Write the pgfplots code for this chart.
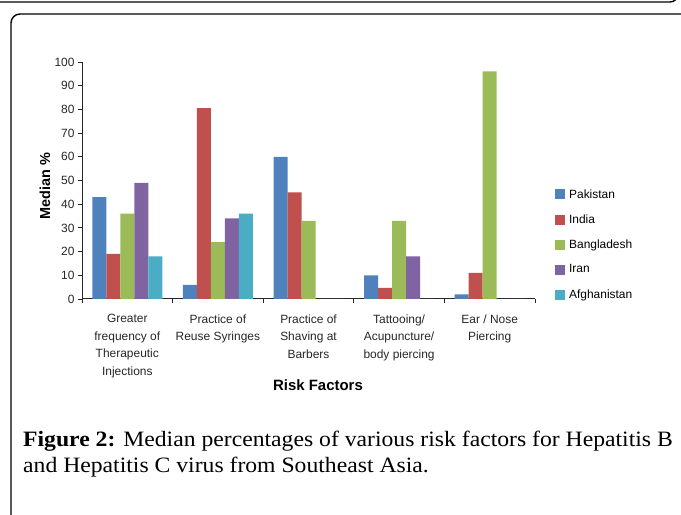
\documentclass[border=0pt]{standalone}
\usepackage{fontspec}
\setmainfont{Liberation Sans}
\newfontfamily\capfont[FakeStretch=1.08]{Liberation Serif}
\usepackage{pgfplots}
\pgfplotsset{compat=1.18}

\definecolor{pak}{HTML}{4F81BD}
\definecolor{ind}{HTML}{C0504D}
\definecolor{ban}{HTML}{9BBB59}
\definecolor{irn}{HTML}{8064A2}
\definecolor{afg}{HTML}{4BACC6}

\begin{document}
\begin{tikzpicture}
\useasboundingbox (0,0) rectangle (681bp,515bp);
% frames of the page
\draw[line width=1.4bp, rounded corners=8bp] (-10bp,513bp) -- (678bp,513bp) -- (678bp,530bp);
\draw[line width=1.4bp, rounded corners=9bp] (11bp,-20bp) -- (11bp,501bp) -- (700bp,501bp);

\begin{axis}[
    at={(82bp,216bp)}, anchor=south west,
    scale only axis,
    width=453bp, height=237bp,
    ybar=0pt, bar width=14bp,
    xmin=-0.5, xmax=4.5,
    ymin=0, ymax=100,
    axis lines=left,
    axis line style={-, line width=1bp, black!85},
    xtick={0,1,2,3,4},
    major x tick style={draw=none},
    minor xtick={-0.5,0.5,1.5,2.5,3.5,4.5},
    minor tick length=4bp,
    xticklabels={Greater\\frequency of\\Therapeutic\\Injections,
                 Practice of\\Reuse Syringes,
                 Practice of\\Shaving at\\Barbers,
                 Tattooing/\\Acupuncture/\\body piercing,
                 Ear / Nose\\Piercing},
    xticklabel style={align=center, font=\fontsize{12}{17.5}\selectfont, color=black!85, yshift=-8bp},
    ytick={0,10,...,100},
    major tick length=4bp,
    tick align=outside,
    tick style={black!85, line width=0.8bp},
    yticklabel style={font=\fontsize{12}{14}\selectfont, color=black!85},
    /pgf/number format/assume math mode=true,
    xlabel={Risk Factors},
    xlabel style={at={(axis description cs:0.521,0)}, anchor=center, yshift=-86bp,
                  font=\fontsize{15}{17}\selectfont\bfseries},
    ylabel={Median \%},
    ylabel style={at={(axis description cs:-0.0817,0.477)}, anchor=center,
                  font=\fontsize{14.5}{17}\selectfont\bfseries},
    legend style={at={(1.044,0.230)}, anchor=west, draw=none, inner sep=0pt,
                  font=\fontsize{12}{14}\selectfont, row sep=11bp,
                  /tikz/every odd column/.append style={column sep=2bp}},
    legend cell align=left,
    legend image code/.code={\fill[#1] (0bp,-5bp) rectangle (10bp,5bp);},
]
\addplot[fill=pak, draw=none] coordinates {(0,43) (1,6) (2,60) (3,10) (4,2)};
\addplot[fill=ind, draw=none] coordinates {(0,19) (1,80.5) (2,45) (3,4.7) (4,11)};
\addplot[fill=ban, draw=none] coordinates {(0,36) (1,24) (2,33) (3,33) (4,96)};
\addplot[fill=irn, draw=none] coordinates {(0,49) (1,34) (2,0) (3,18) (4,0)};
\addplot[fill=afg, draw=none] coordinates {(0,18) (1,36) (2,0) (3,0) (4,0)};
\legend{Pakistan, India, Bangladesh, Iran, Afghanistan}
\end{axis}

\node[anchor=base west, inner sep=0pt, font=\capfont\fontsize{22}{25}\selectfont]
  at (23bp,68bp) {\textbf{Figure 2:} Median percentages of various risk factors for Hepatitis B};
\node[anchor=base west, inner sep=0pt, font=\capfont\fontsize{22}{25}\selectfont]
  at (23bp,42bp) {and Hepatitis C virus from Southeast Asia.};
\end{tikzpicture}
\end{document}
